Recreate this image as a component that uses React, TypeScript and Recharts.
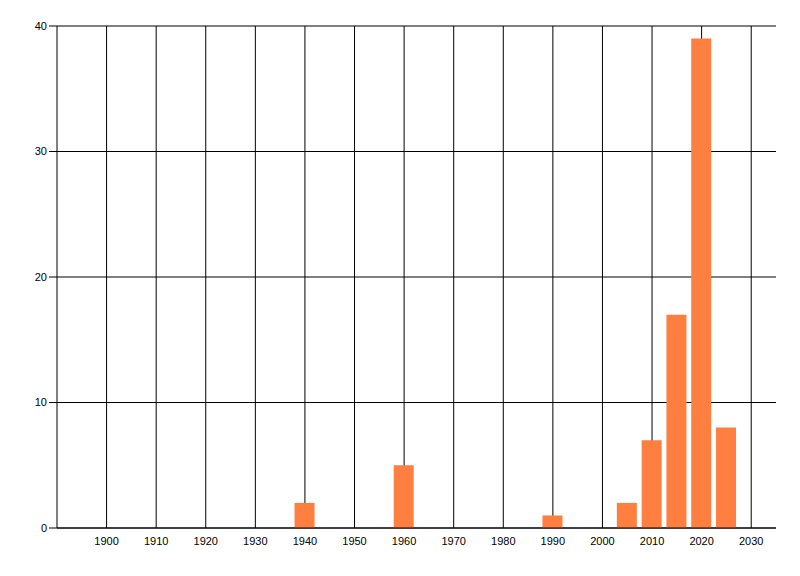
import React from 'react'
import { Bar, BarChart, XAxis, YAxis, CartesianGrid } from 'recharts'

const years = [1940, 1960, 1990, 2005, 2010, 2015, 2020, 2025]
const counts = [2, 5, 1, 2, 7, 17, 39, 8]
const xTicks = [1900, 1910, 1920, 1930, 1940, 1950, 1960, 1970, 1980, 1990, 2000, 2010, 2020, 2030]
const yTicks = [0, 10, 20, 30, 40]

const data = years.map((year, i) => ({ year, count: counts[i] }))

const tickStyle = { fontFamily: 'Liberation Sans, Arial, sans-serif', fontSize: 11, fill: '#000' }

const App: React.FC = () => {
   return (
      <div style={{ position: 'absolute', left: 0, top: 0 }}>
         <BarChart width={800} height={576} data={data} margin={{ top: 26, right: 24, left: 0, bottom: 18 }}>
            {/* syncWithTicks: grid lines only at the ticks, no border on the right */}
            <CartesianGrid stroke='#000' strokeWidth={1} syncWithTicks />
            <XAxis
               dataKey='year'
               type='number'
               domain={[1890, 2035]}
               ticks={xTicks}
               interval={0}
               tickLine={false}
               tickSize={6}
               tickMargin={3}
               height={30}
               axisLine={{ stroke: '#000' }}
               tick={tickStyle}
               allowDataOverflow
            />
            <YAxis
               type='number'
               domain={[0, 40]}
               ticks={yTicks}
               width={57}
               tickSize={8}
               tickMargin={2}
               tickLine={{ stroke: '#000' }}
               axisLine={{ stroke: '#000' }}
               tick={tickStyle}
            />
            <Bar dataKey='count' fill='#FF7F40' barSize={20} isAnimationActive={false} />
         </BarChart>
      </div>
   )
}

export default App
